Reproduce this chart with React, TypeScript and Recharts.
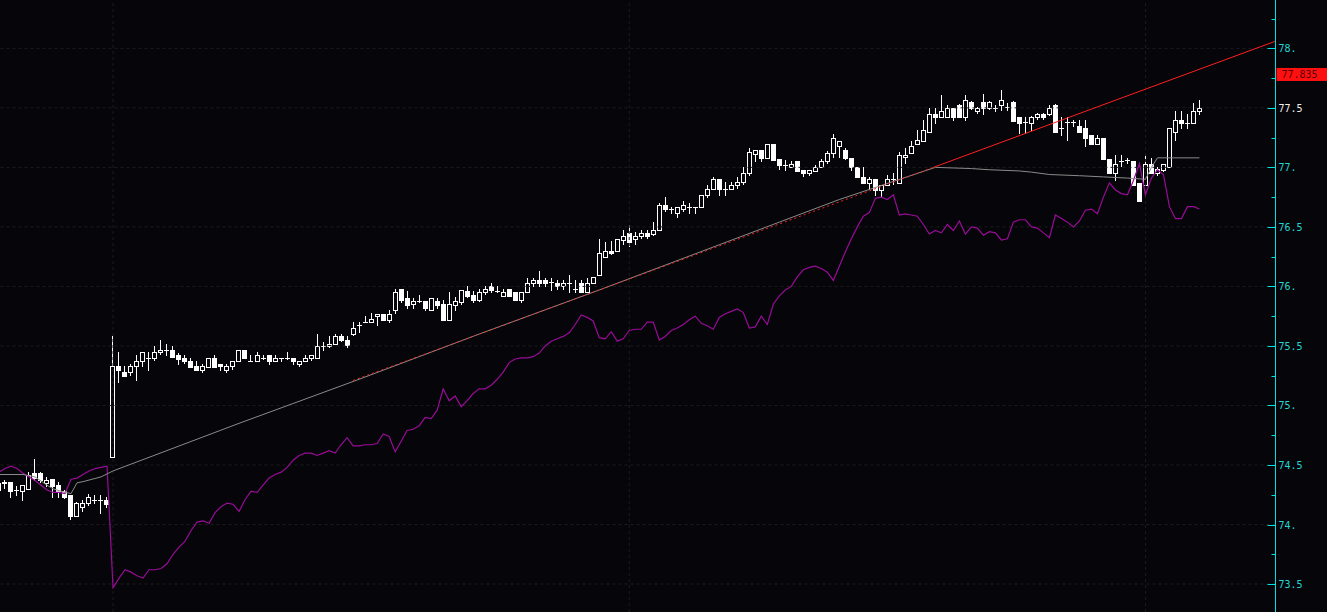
import React from 'react';
import { ComposedChart, Bar, Line, XAxis, YAxis, ReferenceLine, ReferenceDot } from 'recharts';

// candle values, bar 0 is the one cut by the left edge
const opens = [
  74.29, 74.35, 74.36, 74.29, 74.28, 74.30, 74.43, 74.43, 74.35, 74.38,
  74.33, 74.28, 74.25, 74.07, 74.15, 74.18, 74.21, 74.21, 74.21, 74.57,
  75.33, 75.28, 75.28, 75.33, 75.37, 75.40, 75.40, 75.45, 75.47, 75.47,
  75.42, 75.40, 75.37, 75.33, 75.30, 75.32, 75.40, 75.35, 75.30, 75.33,
  75.37, 75.47, 75.37, 75.37, 75.40, 75.42, 75.37, 75.40, 75.40, 75.40,
  75.35, 75.37, 75.40, 75.40, 75.50, 75.50, 75.52, 75.58, 75.55, 75.60,
  75.68, 75.70, 75.70, 75.75, 75.77, 75.72, 75.80, 75.98, 75.90, 75.85,
  75.88, 75.88, 75.80, 75.88, 75.85, 75.72, 75.84, 75.87, 75.96, 75.93,
  75.89, 75.95, 76.00, 75.96, 75.92, 75.98, 75.95, 75.89, 75.95, 76.03,
  76.05, 76.05, 76.04, 76.03, 76.00, 76.03, 75.98, 76.03, 75.95, 76.03,
  76.10, 76.25, 76.30, 76.30, 76.39, 76.45, 76.40, 76.42, 76.45, 76.44,
  76.47, 76.68, 76.65, 76.62, 76.65, 76.67, 76.67, 76.67, 76.77, 76.82,
  76.90, 76.82, 76.82, 76.85, 76.88, 76.95, 77.11, 77.15, 77.08, 77.20,
  77.07, 77.02, 77.00, 77.05, 76.98, 76.95, 76.97, 77.00, 77.05, 77.12,
  77.18, 77.15, 77.08, 77.00, 76.92, 76.87, 76.90, 76.81, 76.85, 76.90,
  76.87, 77.09, 77.12, 77.20, 77.22, 77.30, 77.45, 77.42, 77.42, 77.50,
  77.52, 77.42, 77.55, 77.47, 77.55, 77.50, 77.50, 77.52, 77.51, 77.55,
  77.42, 77.38, 77.37, 77.42, 77.45, 77.45, 77.52, 77.33, 77.38, 77.38,
  77.35, 77.33, 77.27, 77.20, 77.25, 77.07, 76.95, 77.05, 77.06, 77.05,
  76.87, 76.85, 77.03, 76.95, 76.98, 77.00, 77.30, 77.40, 77.37, 77.37,
  77.47,
];

const highs = [
  74.36, 74.37, 74.36, 74.32, 74.33, 74.44, 74.55, 74.44, 74.40, 74.38,
  74.36, 74.29, 74.25, 74.19, 74.21, 74.26, 74.25, 74.25, 74.23, 75.58,
  75.45, 75.33, 75.35, 75.42, 75.45, 75.45, 75.50, 75.55, 75.52, 75.50,
  75.44, 75.42, 75.40, 75.37, 75.35, 75.40, 75.42, 75.35, 75.35, 75.37,
  75.47, 75.47, 75.42, 75.45, 75.42, 75.42, 75.42, 75.40, 75.45, 75.40,
  75.37, 75.42, 75.42, 75.60, 75.53, 75.58, 75.60, 75.60, 75.58, 75.70,
  75.70, 75.75, 75.78, 75.77, 75.77, 75.80, 75.98, 75.98, 75.96, 75.90,
  75.93, 75.88, 75.90, 75.90, 75.89, 75.95, 75.91, 75.97, 76.00, 75.96,
  75.98, 76.00, 76.03, 76.00, 75.98, 75.98, 75.95, 75.95, 76.07, 76.07,
  76.13, 76.07, 76.07, 76.05, 76.05, 76.10, 76.05, 76.05, 76.07, 76.08,
  76.40, 76.37, 76.38, 76.40, 76.47, 76.52, 76.46, 76.47, 76.47, 76.54,
  76.70, 76.75, 76.67, 76.67, 76.72, 76.70, 76.67, 76.77, 76.85, 76.92,
  76.90, 76.88, 76.88, 76.92, 77.00, 77.16, 77.15, 77.15, 77.20, 77.20,
  77.07, 77.06, 77.05, 77.05, 76.98, 76.98, 77.02, 77.07, 77.14, 77.28,
  77.22, 77.16, 77.08, 77.00, 77.00, 76.92, 76.90, 76.85, 76.94, 76.95,
  77.13, 77.16, 77.22, 77.31, 77.40, 77.50, 77.50, 77.61, 77.52, 77.50,
  77.53, 77.61, 77.56, 77.51, 77.62, 77.56, 77.52, 77.65, 77.54, 77.56,
  77.42, 77.42, 77.43, 77.46, 77.46, 77.52, 77.53, 77.42, 77.42, 77.40,
  77.40, 77.40, 77.27, 77.27, 77.25, 77.07, 77.10, 77.10, 77.08, 77.05,
  76.87, 77.10, 77.08, 77.00, 77.03, 77.33, 77.47, 77.47, 77.45, 77.54,
  77.57,
];

const lows = [
  74.28, 74.31, 74.23, 74.25, 74.21, 74.30, 74.37, 74.36, 74.32, 74.23,
  74.23, 74.22, 74.05, 74.07, 74.11, 74.16, 74.18, 74.10, 74.15, 74.57,
  75.20, 75.25, 75.26, 75.21, 75.33, 75.30, 75.38, 75.43, 75.42, 75.41,
  75.35, 75.36, 75.32, 75.30, 75.28, 75.32, 75.32, 75.30, 75.28, 75.31,
  75.37, 75.40, 75.37, 75.37, 75.39, 75.35, 75.37, 75.37, 75.39, 75.35,
  75.33, 75.37, 75.38, 75.40, 75.47, 75.49, 75.52, 75.54, 75.49, 75.59,
  75.62, 75.70, 75.70, 75.68, 75.72, 75.70, 75.78, 75.87, 75.82, 75.82,
  75.87, 75.80, 75.80, 75.82, 75.72, 75.72, 75.80, 75.85, 75.91, 75.87,
  75.88, 75.94, 75.95, 75.95, 75.92, 75.92, 75.89, 75.87, 75.95, 76.00,
  76.00, 76.00, 75.97, 75.98, 75.98, 75.95, 75.95, 75.95, 75.95, 76.03,
  76.10, 76.25, 76.27, 76.30, 76.36, 76.34, 76.36, 76.41, 76.41, 76.43,
  76.47, 76.63, 76.62, 76.58, 76.63, 76.62, 76.62, 76.67, 76.75, 76.82,
  76.77, 76.77, 76.82, 76.83, 76.86, 76.94, 77.05, 77.05, 77.08, 77.06,
  76.99, 76.98, 77.00, 76.97, 76.93, 76.94, 76.97, 77.00, 77.04, 77.09,
  77.09, 77.07, 76.98, 76.92, 76.87, 76.82, 76.77, 76.75, 76.85, 76.86,
  76.87, 77.04, 77.12, 77.20, 77.22, 77.30, 77.37, 77.42, 77.42, 77.40,
  77.42, 77.40, 77.49, 77.46, 77.45, 77.49, 77.47, 77.48, 77.48, 77.39,
  77.29, 77.29, 77.31, 77.41, 77.41, 77.44, 77.30, 77.27, 77.23, 77.35,
  77.30, 77.18, 77.20, 77.20, 77.07, 76.95, 76.89, 77.01, 77.04, 76.85,
  76.72, 76.85, 76.95, 76.94, 76.97, 77.00, 77.23, 77.33, 77.33, 77.37,
  77.45,
];

const closes = [
  74.35, 74.36, 74.28, 74.29, 74.33, 74.42, 74.39, 74.37, 74.37, 74.32,
  74.28, 74.23, 74.07, 74.18, 74.18, 74.23, 74.21, 74.21, 74.17, 75.33,
  75.30, 75.25, 75.33, 75.37, 75.45, 75.40, 75.45, 75.47, 75.47, 75.41,
  75.39, 75.37, 75.32, 75.30, 75.33, 75.40, 75.32, 75.33, 75.33, 75.37,
  75.47, 75.40, 75.37, 75.42, 75.40, 75.37, 75.40, 75.40, 75.40, 75.37,
  75.37, 75.40, 75.42, 75.50, 75.50, 75.52, 75.58, 75.55, 75.51, 75.65,
  75.68, 75.70, 75.73, 75.77, 75.72, 75.77, 75.95, 75.89, 75.84, 75.88,
  75.88, 75.82, 75.90, 75.84, 75.72, 75.85, 75.88, 75.97, 75.92, 75.89,
  75.95, 75.98, 75.97, 75.96, 75.95, 75.92, 75.89, 75.95, 76.03, 76.05,
  76.03, 76.03, 76.04, 76.00, 76.03, 76.03, 75.98, 75.95, 76.03, 76.08,
  76.28, 76.30, 76.28, 76.40, 76.42, 76.37, 76.42, 76.45, 76.42, 76.47,
  76.68, 76.65, 76.65, 76.67, 76.68, 76.67, 76.67, 76.77, 76.82, 76.90,
  76.82, 76.82, 76.85, 76.88, 76.95, 77.13, 77.15, 77.08, 77.20, 77.06,
  77.02, 77.02, 77.03, 76.97, 76.95, 76.98, 77.00, 77.05, 77.12, 77.25,
  77.22, 77.08, 77.00, 76.92, 76.87, 76.90, 76.81, 76.85, 76.90, 76.90,
  77.10, 77.10, 77.18, 77.23, 77.31, 77.45, 77.42, 77.47, 77.50, 77.42,
  77.42, 77.57, 77.50, 77.50, 77.50, 77.55, 77.50, 77.57, 77.51, 77.39,
  77.37, 77.38, 77.42, 77.45, 77.42, 77.50, 77.30, 77.33, 77.38, 77.38,
  77.30, 77.25, 77.20, 77.25, 77.07, 76.95, 77.03, 77.05, 77.06, 76.85,
  76.72, 77.03, 76.95, 76.99, 77.03, 77.33, 77.40, 77.37, 77.37, 77.47,
  77.50,
];

// purple indicator, one value per bar
const oscValues = [
  74.44, 74.47, 74.49, 74.47, 74.43, 74.40, 74.37, 74.33, 74.29, 74.27,
  74.27, 74.26, 74.38, 74.39, 74.42, 74.45, 74.47, 74.48, 74.49, 73.47,
  73.55, 73.62, 73.60, 73.57, 73.55, 73.62, 73.62, 73.63, 73.67, 73.75,
  73.81, 73.86, 73.95, 74.02, 74.03, 74.01, 74.10, 74.15, 74.18, 74.17,
  74.11, 74.21, 74.28, 74.27, 74.33, 74.39, 74.42, 74.44, 74.48, 74.54,
  74.58, 74.60, 74.60, 74.58, 74.60, 74.62, 74.60, 74.67, 74.73, 74.66,
  74.66, 74.67, 74.67, 74.68, 74.76, 74.74, 74.61, 74.70, 74.79, 74.80,
  74.83, 74.90, 74.89, 74.96, 75.14, 75.04, 75.08, 74.99, 75.04, 75.10,
  75.14, 75.14, 75.17, 75.22, 75.28, 75.36, 75.39, 75.40, 75.40, 75.41,
  75.44, 75.50, 75.54, 75.56, 75.58, 75.61, 75.68, 75.76, 75.74, 75.71,
  75.57, 75.56, 75.62, 75.54, 75.56, 75.63, 75.64, 75.64, 75.70, 75.70,
  75.55, 75.58, 75.63, 75.65, 75.68, 75.72, 75.75, 75.69, 75.67, 75.64,
  75.74, 75.77, 75.79, 75.81, 75.78, 75.65, 75.66, 75.75, 75.68, 75.85,
  75.92, 75.97, 76.00, 76.08, 76.14, 76.16, 76.17, 76.15, 76.12, 76.05,
  76.17, 76.29, 76.40, 76.50, 76.59, 76.62, 76.74, 76.75, 76.73, 76.77,
  76.60, 76.61, 76.60, 76.59, 76.52, 76.44, 76.47, 76.45, 76.52, 76.47,
  76.55, 76.44, 76.50, 76.49, 76.43, 76.46, 76.45, 76.39, 76.40, 76.54,
  76.56, 76.56, 76.50, 76.49, 76.45, 76.41, 76.60, 76.57, 76.54, 76.50,
  76.55, 76.64, 76.65, 76.61, 76.75, 76.87, 76.81, 76.78, 76.77, 76.89,
  77.03, 76.77, 76.91, 76.98, 76.94, 76.67, 76.57, 76.57, 76.67, 76.67,
  76.65,
];

// grey average line, read at these bars
const avgBars = [0, 4, 6, 8, 9, 11, 12, 13, 14, 17, 19, 40, 60, 80, 100, 120, 140, 156, 162, 165, 170, 172, 175, 180, 184, 188, 191, 192, 193, 200];
const avgValues = [74.42, 74.42, 74.40, 74.33, 74.30, 74.27, 74.26, 74.35, 74.36, 74.40, 74.45, 74.85, 75.22, 75.60, 75.97, 76.35, 76.73, 77.00, 76.99, 76.98, 76.97, 76.96, 76.94, 76.93, 76.92, 76.91, 76.90, 77.00, 77.08, 77.08];

// red trend line: part lying on the grey line, then the free part
const trendBars = [59, 155.67, 212.667];
const trendValues = [75.21, 77.0, 78.06];

const yTicks = [73.5, 73.75, 74, 74.25, 74.5, 74.75, 75, 75.25, 75.5, 75.75, 76, 76.25, 76.5, 76.75, 77, 77.25, 77.5, 77.75, 78, 78.25];
const gridLevels = [73.5, 74, 74.5, 75, 75.5, 76, 76.5, 77, 77.5, 78];
const sessionBars = [19, 105, 191];
const lastPrice = 77.835;

const BG = '#060509';
const CYAN = '#00e1e1';
const GRID = '#1d1d1f';

const data = opens.map((o, i) => ({
  i,
  o,
  h: highs[i],
  l: lows[i],
  c: closes[i],
  osc: oscValues[i],
  avg: null as number | null,
}));
avgBars.forEach((b, k) => { data[b].avg = avgValues[k]; });

const trendOnAvg = [0, 1].map((k) => ({ i: trendBars[k], t: trendValues[k] }));
const trendFree = [1, 2].map((k) => ({ i: trendBars[k], t: trendValues[k] }));

const Candle = (props: any) => {
  const { x, y, width, height, payload } = props;
  if (x == null || y == null) return null;
  const { o, h, l, c } = payload;
  const top = Math.min(y, y + height);
  const bot = Math.max(y, y + height);
  const span = h - l;
  const toY = (v: number) => (span > 0 ? top + ((h - v) / span) * (bot - top) : top);
  const cx = Math.floor(x + width / 2) + 0.5;
  const yH = Math.round(top);
  const yL = Math.round(bot);
  const yO = Math.round(toY(o));
  const yC = Math.round(toY(c));
  if (o === c) {
    return (
      <g>
        <line x1={cx} x2={cx} y1={yH} y2={yL + 1} stroke="#fff" />
        <line x1={cx - 2.5} x2={cx + 2.5} y1={yO + 0.5} y2={yO + 0.5} stroke="#fff" />
      </g>
    );
  }
  const bTop = Math.min(yO, yC);
  const bBot = Math.max(yO, yC);
  if (c > o) {
    return (
      <g>
        <line x1={cx} x2={cx} y1={yH} y2={yL + 1} stroke="#fff" />
        <rect x={cx - 2} y={bTop + 0.5} width={4} height={Math.max(bBot - bTop, 1)} fill={BG} stroke="#fff" />
      </g>
    );
  }
  return (
    <g>
      <line x1={cx} x2={cx} y1={yH} y2={yL + 1} stroke="#fff" />
      <rect x={cx - 2.5} y={bTop} width={5} height={Math.max(bBot - bTop, 1) + 1} fill="#fff" />
    </g>
  );
};

const AxisTick = (props: any) => {
  const { x, y, payload } = props;
  const v = payload.value;
  const major = Math.abs(v * 2 - Math.round(v * 2)) < 1e-6;
  const yy = Math.round(y) + 0.5;
  const label = Number.isInteger(v) ? `${v}.` : `${v}`;
  return (
    <g>
      <line x1={x - (major ? 8 : 4)} x2={x} y1={yy} y2={yy} stroke={CYAN} />
      {major && (
        <text x={x + 3} y={yy} dy="0.35em" textAnchor="start" fontFamily="DejaVu Sans Mono" fontSize={10}
          fill={v === 77.5 ? '#f0f0f0' : '#22d6d6'}>
          {label}
        </text>
      )}
    </g>
  );
};

const PriceTag = (props: any) => {
  const { cx, cy } = props;
  return (
    <g>
      <rect x={cx + 1} y={cy} width={52} height={13} fill="#ff1010" />
      <text x={cx + 6} y={cy + 7} dy="0.35em" fontFamily="DejaVu Sans Mono" fontSize={10} fill="#5c0000">
        {lastPrice.toFixed(3)}
      </text>
    </g>
  );
};

export default function App() {
  return (
    <div style={{ position: 'fixed', left: 0, top: 0, width: 1327, height: 612, background: BG }}>
      <ComposedChart width={1327} height={612} data={data} margin={{ top: 0, right: 0, bottom: 0, left: 0 }}>
        <XAxis type="number" dataKey="i" hide domain={[1 / 6, 212.667]} allowDataOverflow />
        <YAxis
          orientation="right"
          width={51.5}
          domain={[73.265, 78.406]}
          allowDataOverflow
          ticks={yTicks}
          interval={0}
          tickSize={0}
          tickMargin={0}
          tickLine={false}
          axisLine={{ stroke: CYAN }}
          tick={<AxisTick />}
        />
        {gridLevels.map((g) => (
          <ReferenceLine key={g} y={g} stroke={GRID} strokeDasharray="3 3" />
        ))}
        {sessionBars.map((b) => (
          <ReferenceLine key={b} x={b} stroke={GRID} strokeDasharray="3 3" />
        ))}
        <Bar dataKey={(d: any) => [d.l, d.h]} barSize={5} shape={<Candle />} isAnimationActive={false} />
        <Line dataKey="osc" type="linear" stroke="#980c98" strokeWidth={1.2} dot={false} activeDot={false} isAnimationActive={false} />
        <Line dataKey="avg" type="linear" connectNulls stroke="#8a8a8a" strokeWidth={1} dot={false} activeDot={false} isAnimationActive={false} />
        <Line data={trendOnAvg} dataKey="t" type="linear" stroke="#ff2020" strokeWidth={1} strokeDasharray="2 3" dot={false} activeDot={false} isAnimationActive={false} />
        <Line data={trendFree} dataKey="t" type="linear" stroke="#ff2020" strokeWidth={1} dot={false} activeDot={false} isAnimationActive={false} />
        <ReferenceDot x={212.667} y={lastPrice} ifOverflow="visible" shape={<PriceTag />} />
      </ComposedChart>
    </div>
  );
}
